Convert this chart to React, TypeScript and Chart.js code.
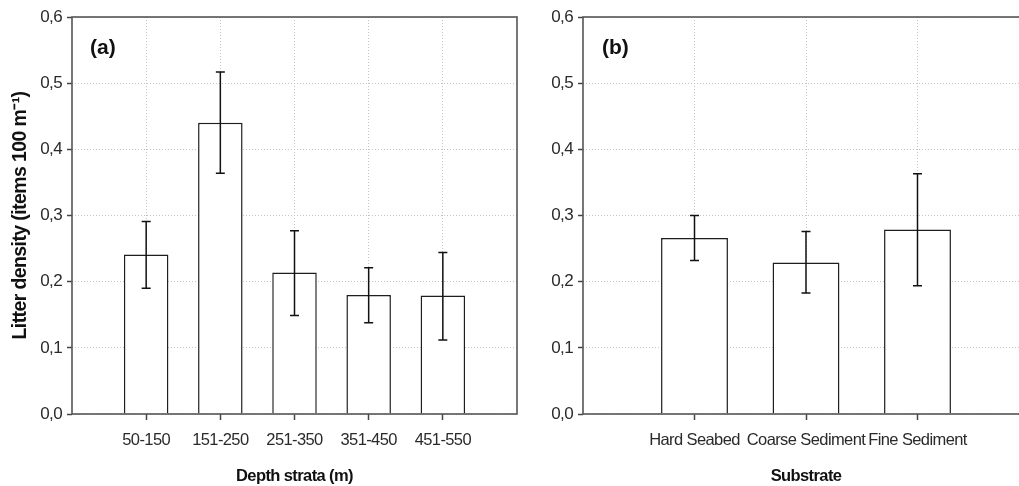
import React, { useEffect, useRef } from 'react';
import { Chart, registerables } from 'chart.js';

Chart.register(...registerables);

// ---- Data ----
const depthStrata = ['50-150', '151-250', '251-350', '351-450', '451-550'];
const depthMean = [0.241, 0.44, 0.214, 0.18, 0.179];
const depthErrUpper = [0.291, 0.517, 0.277, 0.221, 0.244];
const depthErrLower = [0.19, 0.364, 0.149, 0.138, 0.112];

const substrates = ['Hard Seabed', 'Coarse Sediment', 'Fine Sediment'];
const substrateMean = [0.266, 0.229, 0.279];
const substrateErrUpper = [0.3, 0.276, 0.363];
const substrateErrLower = [0.232, 0.183, 0.194];

const yMin = 0;
const yMax = 0.6;
const yStep = 0.1;

const yTitle = 'Litter density (items 100 m\u207B\u00B9)';
const xTitleA = 'Depth strata (m)';
const xTitleB = 'Substrate';
const panelLabelA = '(a)';
const panelLabelB = '(b)';

const FONT = "'Liberation Sans', Arial, sans-serif";
const SPACING = '-0.6px';

type PanelProps = {
  categories: string[];
  means: number[];
  upper: number[];
  lower: number[];
  xTitle: string;
  yTitle?: string;
  panelLabel: string;
  left: number;
  width: number;
  yAxisWidth: number;
  labelOffset: number;
};

function Panel(p: PanelProps) {
  const ref = useRef<HTMLCanvasElement | null>(null);
  useEffect(() => {
    const canvas = ref.current;
    if (!canvas) return;
    const labels = ['', ...p.categories, ''];
    const data = [null, ...p.means, null];
    const upper = [null, ...p.upper, null];
    const lower = [null, ...p.lower, null];
    const nLab = labels.length;

    const spacingPlugin = {
      id: 'condense',
      beforeUpdate(chart: any) {
        (chart.ctx as any).letterSpacing = SPACING;
      },
      beforeDraw(chart: any) {
        (chart.ctx as any).letterSpacing = SPACING;
      },
    };

    const framePlugin = {
      id: 'frameAndErrors',
      afterDatasetsDraw(chart: any) {
        const { ctx, chartArea, scales } = chart;
        const xs = scales.x;
        const ys = scales.y;
        ctx.save();
        ctx.strokeStyle = '#111';
        ctx.lineWidth = 1.5;
        for (let i = 0; i < nLab; i++) {
          if (upper[i] == null || lower[i] == null) continue;
          const x = xs.getPixelForValue(i);
          const yT = ys.getPixelForValue(upper[i]);
          const yB = ys.getPixelForValue(lower[i]);
          ctx.beginPath();
          ctx.moveTo(x, yT);
          ctx.lineTo(x, yB);
          ctx.moveTo(x - 4.5, yT);
          ctx.lineTo(x + 4.5, yT);
          ctx.moveTo(x - 4.5, yB);
          ctx.lineTo(x + 4.5, yB);
          ctx.stroke();
        }
        ctx.strokeStyle = '#555';
        ctx.lineWidth = 1.6;
        ctx.strokeRect(chartArea.left, chartArea.top, chartArea.right - chartArea.left, chartArea.bottom - chartArea.top);
        (ctx as any).letterSpacing = '0px';
        ctx.fillStyle = '#111';
        ctx.font = "bold 21px 'Liberation Sans', Arial, sans-serif";
        ctx.textAlign = 'left';
        ctx.textBaseline = 'middle';
        ctx.fillText(p.panelLabel, chartArea.left + p.labelOffset, 48);
        ctx.restore();
      },
    };

    const chart = new Chart(canvas, {
      type: 'bar',
      data: {
        labels,
        datasets: [
          {
            data: data as any,
            backgroundColor: '#ffffff',
            borderColor: '#1e1e1e',
            borderWidth: 1.5,
            barPercentage: 0.6,
            categoryPercentage: 1,
          },
        ],
      },
      options: {
        animation: false,
        responsive: false,
        devicePixelRatio: 1,
        layout: { padding: { top: 17, right: 3, left: 0, bottom: 0 } },
        plugins: { legend: { display: false }, tooltip: { enabled: false }, title: { display: false } },
        scales: {
          x: {
            type: 'category',
            offset: false,
            afterFit: (s: any) => {
              s.height = 72;
              s.paddingLeft = 0;
              s.paddingRight = 0;
            },
            grid: {
              offset: false,
              display: true,
              drawOnChartArea: true,
              drawTicks: true,
              tickLength: 6,
              tickWidth: 1.5,
              lineWidth: 1,
              color: (c: any) => (c.index === 0 || c.index === nLab - 1 ? 'rgba(0,0,0,0)' : '#c4c4c4'),
              tickColor: (c: any) => (c.index === 0 || c.index === nLab - 1 ? 'rgba(0,0,0,0)' : '#444'),
            },
            border: { display: false, dash: [1, 2] },
            ticks: {
              autoSkip: false,
              maxRotation: 0,
              minRotation: 0,
              padding: 11,
              color: '#2a2a2a',
              font: { family: FONT, size: 16.5 },
            },
            title: {
              display: true,
              text: p.xTitle,
              color: '#111',
              font: { family: FONT, size: 16.5, weight: 'bold' },
              padding: { top: 0, bottom: 0 },
            },
          },
          y: {
            type: 'linear',
            min: yMin,
            max: yMax,
            afterFit: (s: any) => {
              s.width = p.yAxisWidth;
            },
            grid: {
              display: true,
              drawOnChartArea: true,
              drawTicks: true,
              tickLength: 5,
              tickWidth: 1.5,
              lineWidth: 1,
              color: '#c4c4c4',
              tickColor: '#444',
            },
            border: { display: false, dash: [1, 2] },
            ticks: {
              stepSize: yStep,
              padding: 5,
              color: '#2a2a2a',
              font: { family: FONT, size: 17 },
              callback: (v: any) => Number(v).toFixed(1).replace('.', ','),
            },
            title: {
              display: !!p.yTitle,
              text: p.yTitle || '',
              color: '#111',
              font: { family: FONT, size: 19.5, weight: 'bold' },
              padding: { top: 9, bottom: 0 },
            },
          },
        },
      },
      plugins: [spacingPlugin, framePlugin],
    });
    return () => chart.destroy();
  }, []);
  return (
    <canvas
      ref={ref}
      width={p.width}
      height={486}
      style={{ position: 'absolute', left: p.left, top: 0, width: p.width, height: 486 }}
    />
  );
}

export default function App() {
  return (
    <div
      style={{
        position: 'fixed',
        left: 0,
        top: 0,
        width: 1019,
        height: 486,
        overflow: 'hidden',
        background: '#ffffff',
      }}
    >
      <Panel
        categories={depthStrata}
        means={depthMean}
        upper={depthErrUpper}
        lower={depthErrLower}
        xTitle={xTitleA}
        yTitle={yTitle}
        panelLabel={panelLabelA}
        left={0}
        width={520}
        yAxisWidth={72}
        labelOffset={18}
      />
      <Panel
        categories={substrates}
        means={substrateMean}
        upper={substrateErrUpper}
        lower={substrateErrLower}
        xTitle={xTitleB}
        panelLabel={panelLabelB}
        left={520}
        width={512}
        yAxisWidth={63}
        labelOffset={19}
      />
    </div>
  );
}
